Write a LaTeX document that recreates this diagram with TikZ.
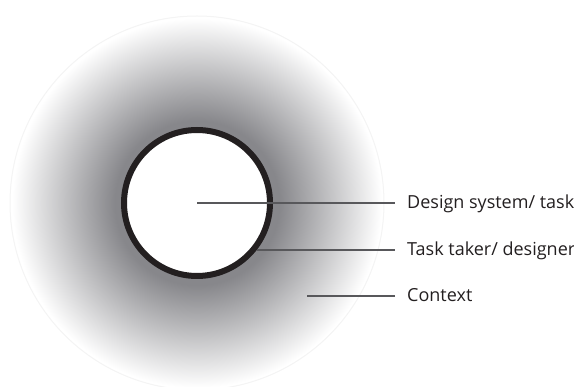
\documentclass[tikz,border=0pt]{standalone}
\usepackage{fontspec}
\setmainfont{Open Sans}
\definecolor{ink}{HTML}{231F20}
\definecolor{dk}{HTML}{87878B}
\definecolor{ln}{HTML}{58585B}
\definecolor{rim}{HTML}{F4F4F4}
\pgfdeclareradialshading{ctx}{\pgfpoint{0bp}{0bp}}{color(0bp)=(dk); color(11bp)=(dk); color(24.7bp)=(white); color(50bp)=(white)}
\begin{document}
\begin{tikzpicture}[x=1pt,y=-1pt,
  lbl/.style={anchor=west, inner sep=0pt, text=ink, text height=13pt, text depth=1pt, font=\fontsize{18}{21}\selectfont},
  leader/.style={draw=ln, line width=1.2pt}]
\useasboundingbox (0,0) rectangle (574,387);
\shade[shading=ctx] (197,203) circle[radius=187];
\draw[rim, line width=1pt] (197,203) circle[radius=187];
\node[circle, draw=ink, fill=white, line width=6pt, minimum size=146pt, inner sep=0pt] (sys) at (197,203) {};
\node[lbl] (l1) at (407,203) {Design system/ task};
\node[lbl] (l2) at (407,250) {Task taker/ designer};
\node[lbl] (l3) at (407,296) {Context};
\draw[leader] (sys.center) -- ([xshift=-12pt]l1.west);
\draw[leader] (sys.-38 |- l2.west) -- ([xshift=-12pt]l2.west);
\draw[leader] ([xshift=-12pt]l3.west) -- ++(-88,0);
\end{tikzpicture}
\end{document}
